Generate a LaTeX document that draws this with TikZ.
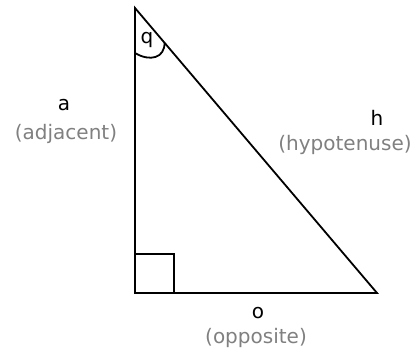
\documentclass[tikz,border=0pt]{standalone}
\usepackage{fontspec}
\setmainfont{DejaVu Sans}
\begin{document}
\begin{tikzpicture}[x=1pt,y=-1pt,
  side/.style={draw=black,line width=1.8pt},
  lbl/.style={font=\fontsize{20}{22}\selectfont,text=black,inner sep=0pt},
  sub/.style={font=\fontsize{20}{22}\selectfont,text=black!50,inner sep=0pt}]
\useasboundingbox (0,0) rectangle (414,353);
\coordinate (T) at (135,8);
\coordinate (L) at (135,293);
\coordinate (R) at (377,293);
\draw[side,line join=miter] (T) -- (L) -- (R) -- cycle;
\draw[side] (135,254) -- (174,254) -- (174,293);
\draw[side] (135,53) .. controls (150,62) and (165,58) .. (164.5,42.5);
\node[lbl] (q) at (147,40) {q};
\node[lbl] (a) at (64,105) {a};
\node[sub] (adj) at (66,134) {(adjacent)};
\node[lbl] (h) at (377,118) {h};
\node[sub] (hyp) at (345,145) {(hypotenuse)};
\node[lbl] (o) at (258,313) {o};
\node[sub] (opp) at (256,338) {(opposite)};
\end{tikzpicture}
\end{document}
